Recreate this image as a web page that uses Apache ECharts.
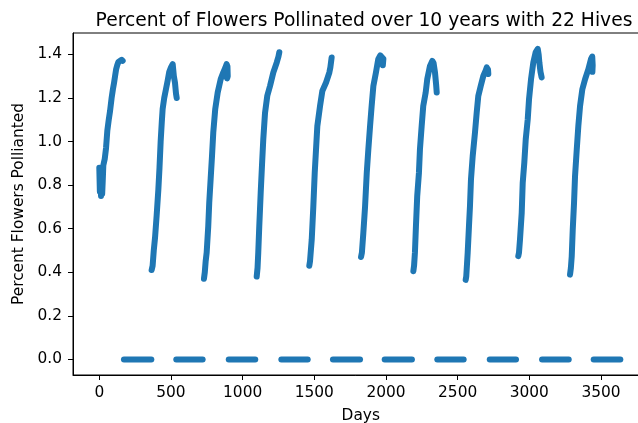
<!DOCTYPE html>
<html>
<head>
<meta charset="utf-8">
<script src="https://cdn.jsdelivr.net/npm/echarts@6/dist/echarts.min.js"></script>
<style>
  html, body { margin: 0; padding: 0; background: #fff; }
  #chart { width: 638px; height: 423px; }
</style>
</head>
<body>
<div id="chart"></div>
<script>
// tick labels
const xTicks = [0, 500, 1000, 1500, 2000, 2500, 3000, 3500]
const yTicks = [0, 0.2, 0.4, 0.6, 0.8, 1.0, 1.2, 1.4]

// growing part of each year, [day, percent]
const year1 = [[0, 0.88], [4, 0.77], [8, 0.86], [12, 0.75], [16, 0.85], [20, 0.76], [24, 0.82], [28, 0.89],
  [38, 0.92], [47, 0.97], [56, 1.05], [66, 1.10], [75, 1.14], [86, 1.2], [95, 1.24], [103, 1.27],
  [110, 1.3], [117, 1.33], [125, 1.35], [133, 1.365], [145, 1.37], [156, 1.375], [163, 1.37]]
const year2 = [[365, 0.41], [372, 0.43], [380, 0.5], [389, 0.56], [400, 0.66], [412, 0.78], [420, 0.88],
  [428, 1.0], [436, 1.09], [442, 1.15], [453, 1.2], [465, 1.24], [477, 1.28], [488, 1.32], [500, 1.34],
  [512, 1.355], [520, 1.3], [528, 1.27], [535, 1.22], [540, 1.2]]
const year3 = [[730, 0.37], [736, 0.4], [742, 0.45], [749, 0.49], [760, 0.61], [767, 0.72], [777, 0.83],
  [786, 0.93], [795, 1.04], [809, 1.15], [826, 1.225], [847, 1.286], [865, 1.317], [880, 1.34],
  [888, 1.355], [894, 1.345], [896, 1.3], [892, 1.29]]
const year4 = [[1098, 0.38], [1104, 0.42], [1109, 0.49], [1116, 0.61], [1126, 0.765], [1135, 0.89],
  [1144, 1.01], [1156, 1.13], [1172, 1.21], [1191, 1.255], [1214, 1.317], [1238, 1.363], [1250, 1.39],
  [1256, 1.41]]
const year5 = [[1465, 0.43], [1470, 0.45], [1482, 0.55], [1493, 0.7], [1503, 0.857], [1512, 0.964],
  [1521, 1.07], [1540, 1.163], [1556, 1.232], [1582, 1.271], [1605, 1.317], [1612, 1.34], [1621, 1.386]]
const year6 = [[1826, 0.47], [1832, 0.49], [1842, 0.58], [1854, 0.7], [1866, 0.857], [1877, 0.964],
  [1889, 1.071], [1900, 1.163], [1912, 1.255], [1930, 1.317], [1946, 1.378], [1960, 1.395],
  [1972, 1.4], [1982, 1.38], [1978, 1.35]]
const year7 = [[2191, 0.405], [2196, 0.43], [2202, 0.49], [2209, 0.61], [2218, 0.75], [2230, 0.857],
  [2237, 0.964], [2249, 1.071], [2260, 1.163], [2277, 1.225], [2288, 1.286], [2307, 1.347],
  [2323, 1.37], [2332, 1.36], [2342, 1.317], [2350, 1.26], [2354, 1.225]]
const year8 = [[2556, 0.365], [2560, 0.38], [2570, 0.489], [2579, 0.611], [2586, 0.703], [2593, 0.826],
  [2605, 0.933], [2621, 1.041], [2633, 1.133], [2644, 1.209], [2661, 1.255], [2679, 1.301],
  [2695, 1.325], [2703, 1.34], [2712, 1.33], [2714, 1.31]]
const year9 = [[2923, 0.474], [2928, 0.49], [2935, 0.55], [2947, 0.673], [2954, 0.811], [2965, 0.903],
  [2975, 1.01], [2989, 1.102], [2998, 1.194], [3012, 1.286], [3028, 1.363], [3044, 1.409],
  [3059, 1.425], [3065, 1.4], [3070, 1.363], [3078, 1.32], [3086, 1.294]]
const year10 = [[3284, 0.389], [3290, 0.42], [3296, 0.474], [3303, 0.596], [3312, 0.719], [3319, 0.841],
  [3331, 0.964], [3342, 1.071], [3354, 1.163], [3370, 1.24], [3389, 1.286], [3412, 1.332],
  [3430, 1.378], [3439, 1.39], [3442, 1.35], [3440, 1.32]]

// days with nothing pollinated (value 0) each year
const zeroStart = [172, 537, 903, 1270, 1630, 1991, 2358, 2724, 3089, 3449]
const zeroEnd = [363, 721, 1088, 1454, 1819, 2181, 2542, 2907, 3275, 3635]

const years = [year1, year2, year3, year4, year5, year6, year7, year8, year9, year10]
const blue = '#1f77b4'
const font = 'DejaVu Sans'

function dots(data) {
  return {
    type: 'line',
    data: data,
    symbol: 'none',
    silent: true,
    lineStyle: { width: 6, color: blue, cap: 'round', join: 'round' },
  }
}

const series = years.map(dots)
zeroStart.forEach((d, i) => {
  series.push(dots([[d, 0], [zeroEnd[i], 0]]))
})

const chart = echarts.init(document.getElementById('chart'))
chart.setOption({
  animation: false,
  title: {
    text: 'Percent of Flowers Pollinated over 10 years with 22 Hives',
    left: 359,
    textAlign: 'center',
    top: 7,
    textStyle: { fontFamily: font, fontSize: 18.7, fontWeight: 'normal', color: '#000' },
  },
  grid: {
    left: 73,
    top: 33,
    width: 575.5,
    height: 342,
    outerBoundsMode: 'none',
    show: true,
    borderColor: '#000',
    borderWidth: 1,
    backgroundColor: 'transparent',
  },
  xAxis: {
    type: 'value',
    min: -183.5,
    max: 3831.5,
    name: 'Days',
    nameLocation: 'middle',
    nameGap: 33,
    nameTextStyle: { fontFamily: font, fontSize: 15.4, color: '#000' },
    axisLine: { show: true, onZero: false, lineStyle: { color: '#000', width: 1 } },
    axisTick: { show: true, length: 5, customValues: xTicks, lineStyle: { color: '#000' } },
    axisLabel: {
      customValues: xTicks,
      margin: 10,
      fontFamily: font,
      fontSize: 15.4,
      color: '#000',
      formatter: v => String(v),
    },
    splitLine: { show: false },
  },
  yAxis: {
    type: 'value',
    min: -0.0716,
    max: 1.498,
    name: 'Percent Flowers Pollianted',
    nameLocation: 'middle',
    nameGap: 43,
    nameRotate: 90,
    nameTextStyle: { fontFamily: font, fontSize: 15.4, color: '#000' },
    axisLine: { show: true, onZero: false, lineStyle: { color: '#000', width: 1 } },
    axisTick: { show: true, length: 5, customValues: yTicks, lineStyle: { color: '#000' } },
    axisLabel: {
      customValues: yTicks,
      margin: 11,
      fontFamily: font,
      fontSize: 15.4,
      color: '#000',
      formatter: v => v.toFixed(1),
    },
    splitLine: { show: false },
  },
  series: series,
})
</script>
</body>
</html>
